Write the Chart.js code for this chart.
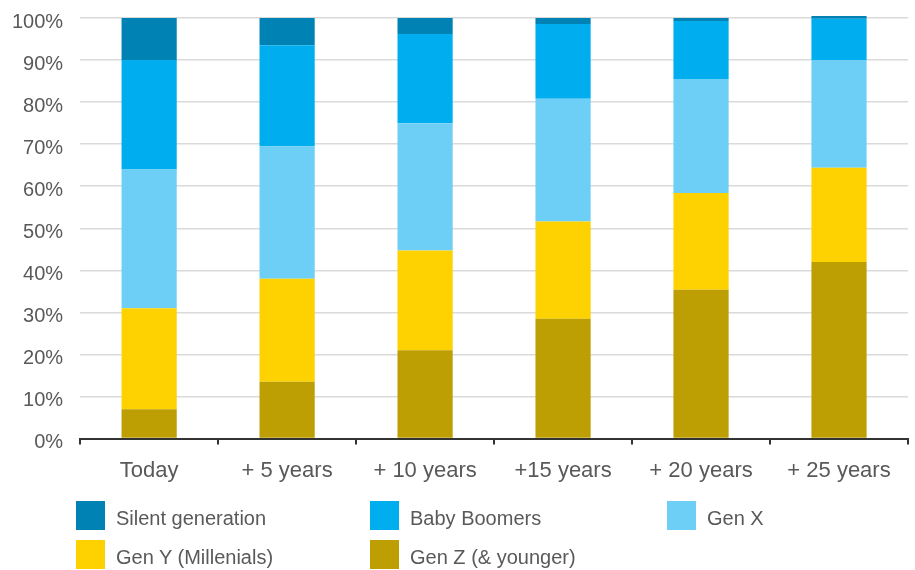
<!DOCTYPE html>
<html>
<head>
<meta charset="utf-8">
<script src="https://cdn.jsdelivr.net/npm/chart.js@4"></script>
<style>
  body { margin: 0; background: #fff; font-family: 'Liberation Sans', Arial, sans-serif; }
  #wrap { position: relative; width: 915px; height: 570px; }
  #chart { position: absolute; left: 0; top: 0; }
  #legend { position: absolute; left: 76px; top: 501px; display: grid; grid-template-columns: 294px 297px 200px; row-gap: 10px; }
  .item { display: flex; align-items: center; height: 29px; font-size: 20px; color: #595959; }
  .item span:last-child { position: relative; top: 3px; }
  .box { width: 29px; height: 29px; margin-right: 11px; flex: none; }
</style>
</head>
<body>
<div id="wrap">
  <canvas id="chart" width="915" height="570"></canvas>
  <div id="legend"></div>
</div>
<script>
const categories = ['Today', '+ 5 years', '+ 10 years', '+15 years', '+ 20 years', '+ 25 years'];
const genZ = [7, 13.5, 21, 28.5, 35.4, 42];
const genY = [24, 24.5, 23.7, 23.1, 23, 22.4];
const genX = [33, 31.5, 30.3, 29.2, 27.1, 25.6];
const boomers = [26, 24, 21.2, 17.8, 13.8, 9.8];
const silent = [10, 6.5, 3.8, 1.4, 0.7, 0.7];
const yTicks = [0, 10, 20, 30, 40, 50, 60, 70, 80, 90, 100];

const textColor = '#595959';
const family = "'Liberation Sans', Arial, sans-serif";

function ds(label, data, color) {
  return { label: label, data: data, backgroundColor: color, borderWidth: 0, clip: false };
}

const chart = new Chart(document.getElementById('chart').getContext('2d'), {
  type: 'bar',
  data: {
    labels: categories,
    datasets: [
      ds('Gen Z (& younger)', genZ, '#bd9e03'),
      ds('Gen Y (Millenials)', genY, '#fdd200'),
      ds('Gen X', genX, '#6dcff6'),
      ds('Baby Boomers', boomers, '#00aeef'),
      ds('Silent generation', silent, '#0082b5')
    ]
  },
  options: {
    responsive: false,
    animation: false,
    layout: { padding: { left: -5, right: 7, top: 0, bottom: 73 } },
    datasets: { bar: { categoryPercentage: 1, barPercentage: 0.4 } },
    plugins: { legend: { display: false }, tooltip: { enabled: false } },
    scales: {
      x: {
        stacked: true,
        grid: { offset: true, drawOnChartArea: false, drawTicks: true, tickLength: 6, color: '#333', lineWidth: 2 },
        border: { display: true, color: '#333', width: 2 },
        ticks: { color: textColor, font: { family: family, size: 22 }, padding: 13, maxRotation: 0 }
      },
      y: {
        stacked: true,
        min: 0,
        max: 100,
        afterBuildTicks: axis => { axis.ticks = yTicks.map(v => ({ value: v })); },
        grid: { color: '#dadada', lineWidth: 1.5, drawTicks: false },
        border: { display: false },
        // small lineHeight so the top label does not push the plot down
        ticks: { color: textColor, font: { family: family, size: 20, lineHeight: 0.1 }, padding: 17, labelOffset: 4, callback: v => v + '%' }
      }
    }
  }
});

const legend = document.getElementById('legend');
chart.data.datasets.slice().reverse().forEach(d => {
  const el = document.createElement('div');
  el.className = 'item';
  el.innerHTML = `<span class="box" style="background:${d.backgroundColor}"></span><span>${d.label}</span>`;
  legend.appendChild(el);
});
</script>
</body>
</html>
